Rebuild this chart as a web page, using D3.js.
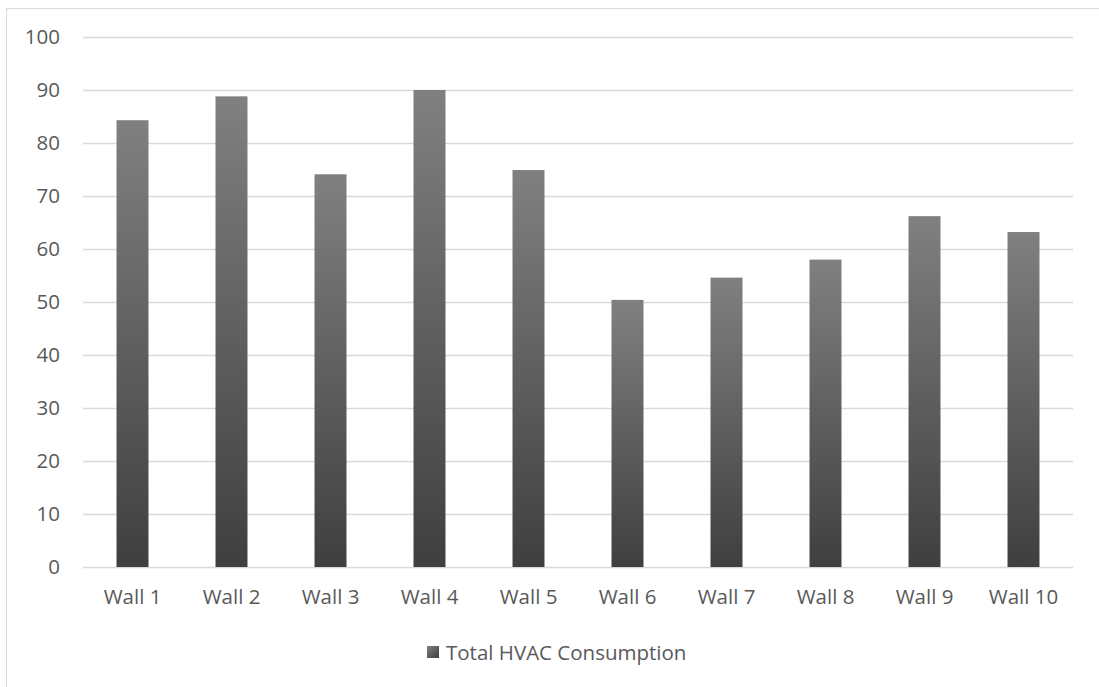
<!DOCTYPE html>
<html><head><meta charset="utf-8">
<script src="https://cdn.jsdelivr.net/npm/d3@7"></script>
<style>body{margin:0;background:#fff}svg{display:block}</style>
</head><body>
<svg id="c" width="1099" height="687"></svg>
<script>
const categories = ["Wall 1","Wall 2","Wall 3","Wall 4","Wall 5","Wall 6","Wall 7","Wall 8","Wall 9","Wall 10"];
const values = [84.3, 88.8, 74.1, 90.0, 74.9, 50.4, 54.6, 58.0, 66.2, 63.2];
const yTicks = [0,10,20,30,40,50,60,70,80,90,100];
const seriesName = "Total HVAC Consumption";

const svg = d3.select("#c");
const font = "'Open Sans', sans-serif";
const fs = 20.5;
const L = 83, R = 1073, T = 37, B = 567;

// chart border
svg.append("rect").attr("x",6.5).attr("y",8.5).attr("width",1200).attr("height",800)
  .attr("fill","none").attr("stroke","#d9d9d9").attr("stroke-width",1);

const defs = svg.append("defs");
const g = defs.append("linearGradient").attr("id","bg").attr("x1",0).attr("y1",0).attr("x2",0).attr("y2",1);
g.append("stop").attr("offset","0%").attr("stop-color","#808080");
g.append("stop").attr("offset","100%").attr("stop-color","#3f3f3f");
const g2 = defs.append("linearGradient").attr("id","lg").attr("x1",0).attr("y1",0).attr("x2",1).attr("y2",1);
g2.append("stop").attr("offset","0%").attr("stop-color","#808080");
g2.append("stop").attr("offset","100%").attr("stop-color","#3f3f3f");

const x = d3.scaleBand().domain(categories).range([L,R]).paddingInner(0.677).paddingOuter(0.3385);
const y = d3.scaleLinear().domain([0,100]).range([B,T]);

// gridlines
svg.append("g").selectAll("line").data(yTicks).join("line")
  .attr("x1",L).attr("x2",R).attr("y1",d=>Math.round(y(d))+0.5).attr("y2",d=>Math.round(y(d))+0.5)
  .attr("stroke","#d9d9d9").attr("stroke-width",1.3);

// y axis labels
const ya = svg.append("g").attr("transform",`translate(${L},0)`)
  .call(d3.axisLeft(y).tickValues(yTicks).tickSize(0).tickPadding(23));
ya.select(".domain").remove();
ya.selectAll("text").attr("font-family",font).attr("font-size",fs).attr("fill","#595959");

// bars
svg.append("g").selectAll("rect").data(values).join("rect")
  .attr("x",(d,i)=>x(categories[i])).attr("width",x.bandwidth())
  .attr("y",d=>y(d)).attr("height",d=>B-y(d)).attr("fill","url(#bg)");

// x axis labels
const xa = svg.append("g").attr("transform",`translate(0,${B})`)
  .call(d3.axisBottom(x).tickSize(0).tickPadding(22));
xa.select(".domain").remove();
xa.selectAll("text").attr("font-family",font).attr("font-size",fs).attr("fill","#595959");

// legend
const leg = svg.append("g");
leg.append("rect").attr("x",427).attr("y",646).attr("width",12).attr("height",12).attr("fill","url(#lg)");
leg.append("text").attr("x",446).attr("y",659.5).attr("font-family",font).attr("font-size",fs)
  .attr("fill","#595959").text(seriesName);
</script>
</body></html>
